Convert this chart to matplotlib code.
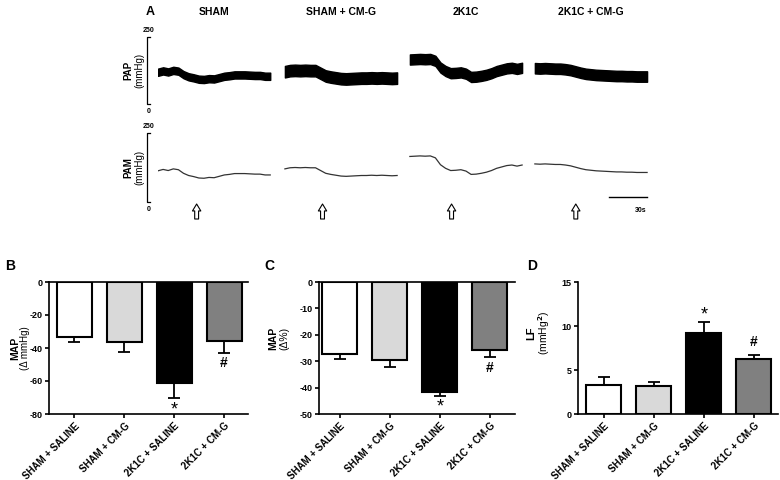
import numpy as np
import matplotlib
matplotlib.use("Agg")
import matplotlib.pyplot as plt
from matplotlib.transforms import blended_transform_factory

plt.rcParams['font.family'] = ['Liberation Sans', 'DejaVu Sans']
plt.rcParams['font.weight'] = 'bold'
plt.rcParams['axes.unicode_minus'] = False

# ---------------- data ----------------
groups_a = ['SHAM', 'SHAM + CM-G', '2K1C', '2K1C + CM-G']
seg_start = [0, 99.5, 197.5, 295.5]      # s, start of each recording
sample_step = 4.0                          # s between samples
inject_t = [30.3, 29.5, 32.7, 32.1]        # s after segment start (arrows)
scale_bar_s = 30

# mean arterial pressure (mmHg), read every 4 s
pam_sham = [113, 118, 114, 120, 117, 104, 96, 92, 87, 86, 89, 88, 93, 98, 100, 103, 103, 103, 102, 101, 101, 98, 98]
pam_sham_cmg = [120, 124, 125, 124, 125, 124, 124, 114, 104, 100, 97, 94, 93, 94, 95, 96, 96, 97, 96, 97, 96, 95, 96]
pam_2k1c = [165, 166, 167, 166, 167, 160, 135, 122, 114, 115, 117, 112, 100, 101, 104, 108, 114, 122, 127, 132, 134, 130, 134]
pam_2k1c_cmg = [138, 137, 138, 137, 136, 136, 134, 131, 126, 121, 117, 115, 113, 112, 111, 110, 109, 109, 108, 108, 107, 107, 107]
pam_all = [pam_sham, pam_sham_cmg, pam_2k1c, pam_2k1c_cmg]
# pulsatile band around the mean (diastolic, systolic offsets)
pap_low = [-8, -21, -18, -24]
pap_high = [19, 22, 20, 15]

cats = ['SHAM + SALINE', 'SHAM + CM-G', '2K1C + SALINE', '2K1C + CM-G']
bar_colors = ['white', '#d9d9d9', 'black', '#808080']
map_mmhg = [-33.5, -36.3, -61.0, -35.8]
map_mmhg_err = [2.6, 6.0, 9.6, 7.4]
map_pct = [-27.2, -29.7, -41.5, -25.7]
map_pct_err = [2.0, 2.6, 1.7, 2.8]
lf = [3.3, 3.15, 9.25, 6.2]
lf_err = [0.95, 0.5, 1.2, 0.55]

W, H = 780, 480
fig = plt.figure(figsize=(7.8, 4.8), dpi=100)


def px_axes(l, t, r, b):
    return fig.add_axes([l / W, 1 - b / H, (r - l) / W, (b - t) / H])


def fy(py):
    return 1 - py / H


# ---------------- panel A ----------------
x0, x1 = 158, 649
tmax = 385.0
ax_pap = px_axes(x0, 37, x1, 104)
ax_pam = px_axes(x0, 133, x1, 202)

for ax, label in [(ax_pap, 'PAP'), (ax_pam, 'PAM')]:
    ax.set_xlim(0, tmax)
    ax.set_ylim(0, 250)
    ax.axis('off')
    # bracket scale
    bx = -8.6
    ax.plot([bx + 2.5, bx, bx, bx + 2.5], [250, 250, 0, 0], color='black', lw=0.9, clip_on=False)
    ax.text(bx + 1.5, 262, '250', fontsize=5, ha='center', va='bottom')
    ax.text(bx + 1.5, -15, '0', fontsize=5, ha='center', va='top')
    ax.text(-14.5, 125, '(mmHg)', fontsize=7, rotation=90, ha='center', va='center', fontweight='normal')
    ax.text(-23, 125, label, fontsize=7, rotation=90, ha='center', va='center')

top_blend = blended_transform_factory(ax_pap.transData, fig.transFigure)
for i in range(4):
    mean = np.array(pam_all[i], dtype=float)
    t = seg_start[i] + sample_step * np.arange(len(mean))
    ax_pap.fill_between(t, mean + pap_low[i], mean + pap_high[i], color='black', lw=1.0, edgecolor='black')
    ax_pam.plot(t, mean, color='#333333', lw=0.9)
    mid = seg_start[i] + sample_step * (len(mean) - 1) / 2
    ax_pap.text(mid, fy(12), groups_a[i], transform=top_blend, fontsize=7.5, ha='center', va='center')
    ta = seg_start[i] + inject_t[i]
    ax_pam.annotate('', xy=(ta, fy(204)), xytext=(ta, fy(219)),
                    xycoords=('data', 'figure fraction'), textcoords=('data', 'figure fraction'),
                    arrowprops=dict(arrowstyle='simple,head_width=0.6,head_length=0.5,tail_width=0.28',
                                    fc='white', ec='black', lw=0.8, shrinkA=0, shrinkB=0))

blend = blended_transform_factory(ax_pam.transData, fig.transFigure)
seg_end = seg_start[3] + sample_step * (len(pam_2k1c_cmg) - 1)
ax_pam.plot([seg_end - scale_bar_s, seg_end], [fy(197), fy(197)], color='black', lw=1.0,
            transform=blend, clip_on=False)
ax_pam.text(seg_end - 5, fy(210), '%ds' % scale_bar_s, fontsize=5, ha='center', va='center', transform=blend)
fig.text(150 / W, fy(12), 'A', fontsize=9, ha='center', va='center')


# ---------------- bar panels ----------------
def bar_panel(ax, vals, errs, ylim, yticks, xlim, neg):
    x = np.arange(len(cats))
    ax.bar(x, vals, width=0.7, color=bar_colors, edgecolor='black', linewidth=1.5, zorder=2)
    if neg:
        yerr = [errs, [0] * len(errs)]
    else:
        yerr = [[0] * len(errs), errs]
    ax.errorbar(x, vals, yerr=yerr, fmt='none', ecolor='black', elinewidth=1.3,
                capsize=4.2, capthick=1.3, zorder=1)
    ax.set_xlim(*xlim)
    ax.set_ylim(*ylim)
    ax.set_yticks(yticks)
    ax.set_xticks(x)
    ax.set_xticklabels(cats, rotation=45, ha='right', rotation_mode='anchor', fontsize=7)
    ax.tick_params(axis='y', labelsize=6.5, length=3, width=1.2, pad=1.5)
    ax.tick_params(axis='x', length=3, width=1.2, pad=2)
    ax.spines['right'].set_visible(False)
    for s in ['left', 'bottom', 'top']:
        ax.spines[s].set_linewidth(1.2)
    if not neg:
        ax.spines['top'].set_visible(False)


axB = px_axes(49, 282, 248, 414)
bar_panel(axB, map_mmhg, map_mmhg_err, (-80, 0), [-80, -60, -40, -20, 0], (-0.51, 3.48), True)
axB.text(2, -72.5, '*', fontsize=13, ha='center', va='top', fontweight='normal')
axB.text(3, -49, '#', fontsize=10, ha='center', va='center')
fig.text(5 / W, fy(266), 'B', fontsize=10, ha='left', va='center')
fig.text(15 / W, fy(348), 'MAP', fontsize=7.5, rotation=90, ha='center', va='center')
fig.text(24.5 / W, fy(348), '(Δ mmHg)', fontsize=7, rotation=90, ha='center', va='center', fontweight='normal')

axC = px_axes(319, 282, 515, 414)
bar_panel(axC, map_pct, map_pct_err, (-50, 0), [-50, -40, -30, -20, -10, 0], (-0.41, 3.5), True)
axC.text(2, -44.3, '*', fontsize=13, ha='center', va='top', fontweight='normal')
axC.text(3, -32.5, '#', fontsize=10, ha='center', va='center')
fig.text(264 / W, fy(266), 'C', fontsize=10, ha='left', va='center')
fig.text(273 / W, fy(338), 'MAP', fontsize=7.5, rotation=90, ha='center', va='center')
fig.text(284 / W, fy(338), '(Δ%)', fontsize=7.5, rotation=90, ha='center', va='center', fontweight='normal')

axD = px_axes(578, 282, 778, 414)
bar_panel(axD, lf, lf_err, (0, 15), [0, 5, 10, 15], (-0.51, 3.48), False)
axD.text(2, 11.3, '*', fontsize=13, ha='center', va='center', fontweight='normal')
axD.text(3, 8.2, '#', fontsize=10, ha='center', va='center')
fig.text(527 / W, fy(266), 'D', fontsize=10, ha='left', va='center')
fig.text(531 / W, fy(333), 'LF', fontsize=8, rotation=90, ha='center', va='center')
fig.text(544 / W, fy(333), '(mmHg$^2$)', fontsize=7.5, rotation=90, ha='center', va='center', fontweight='normal')

fig.savefig('out.png', dpi=100)
